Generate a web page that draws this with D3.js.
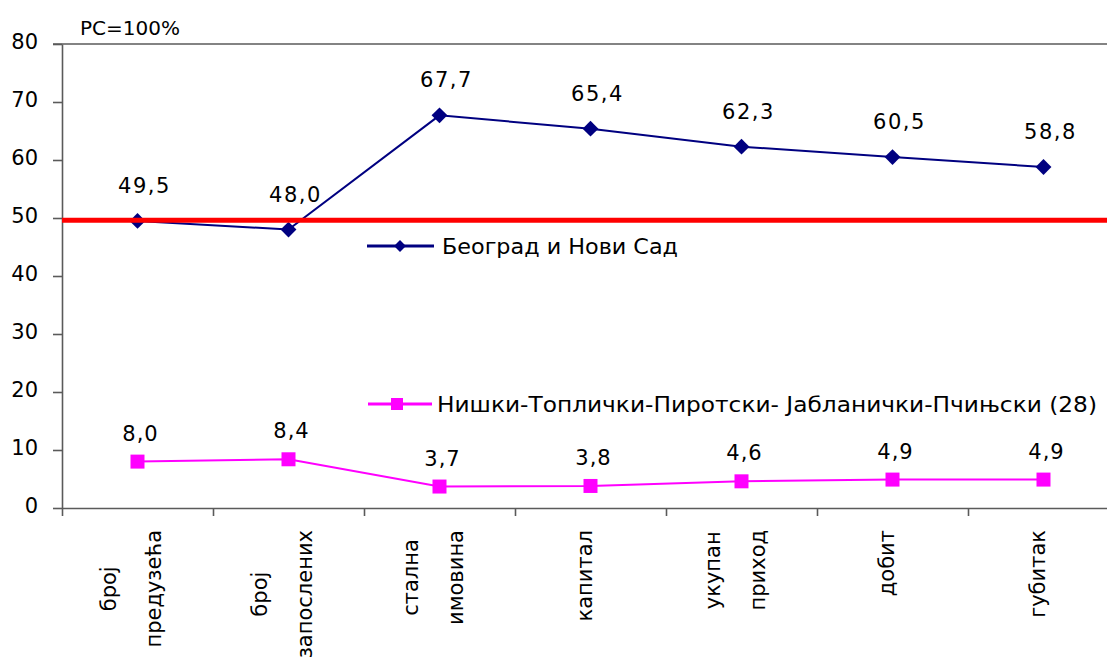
<!DOCTYPE html>
<html>
<head>
<meta charset="utf-8">
<script src="https://cdn.jsdelivr.net/npm/d3@7"></script>
<style>
  body { margin: 0; background: #fff; }
  text { font-family: "DejaVu Sans", Verdana, sans-serif; fill: #000; }
</style>
</head>
<body>
<div id="chart"></div>
<script>
// Data
var categories = ["број предузећа", "број запослених", "стална имовина", "капитал", "укупан приход", "добит", "губитак"];
var beogradValues = [49.5, 48.0, 67.7, 65.4, 62.3, 60.5, 58.8];
var nisValues = [8.0, 8.4, 3.7, 3.8, 4.6, 4.9, 4.9];
var seriesNames = ["Београд и Нови Сад", "Нишки-Топлички-Пиротски- Јабланички-Пчињски (28)"];
var yTicks = [0, 10, 20, 30, 40, 50, 60, 70, 80];
var referenceLevel = 49.6;
var unitLabel = "PC=100%";

var svgWidth = 1107;
var svgHeight = 664;

var margin = { top: 44, left: 62 };
var width = 1057;   // plot runs a little past the right edge, as in the picture
var height = 464;

var svg = d3.select("#chart")
    .append("svg")
    .attr("width", svgWidth)
    .attr("height", svgHeight);

var chartGroup = svg.append("g")
    .attr("transform", `translate(${margin.left}, ${margin.top})`);

// Scales
var xBand = d3.scaleBand()
    .domain(categories)
    .range([0, width])
    .padding(0);

var xEdges = d3.scaleLinear()
    .domain([0, categories.length])
    .range([0, width]);

var yLinearScale = d3.scaleLinear()
    .domain([0, 80])
    .range([height, 0]);

var cx = d => xBand(d) + xBand.bandwidth() / 2;
var axisColor = "#5a5a5a";

// Top border of the plot area
chartGroup.append("path")
    .attr("d", `M-9,0H${width}`)
    .attr("stroke", axisColor)
    .attr("stroke-width", 1.6);

// Y axis
var leftAxis = d3.axisLeft(yLinearScale)
    .tickValues(yTicks)
    .tickSize(9)
    .tickSizeOuter(0)
    .tickPadding(15);

var yAxisG = chartGroup.append("g").call(leftAxis);
yAxisG.selectAll("path, line").attr("stroke", axisColor).attr("stroke-width", 1.6);
yAxisG.selectAll("text")
    .attr("font-family", "DejaVu Sans")
    .style("font-size", "21px")
    .attr("dy", "0.2em");

// X axis (ticks on category boundaries)
var bottomAxis = d3.axisBottom(xEdges)
    .tickValues(d3.range(categories.length + 1))
    .tickSize(8)
    .tickSizeOuter(0)
    .tickFormat("");

var xAxisG = chartGroup.append("g")
    .attr("transform", `translate(0, ${height})`)
    .call(bottomAxis);
xAxisG.selectAll("path, line").attr("stroke", axisColor).attr("stroke-width", 1.6);

// Category labels, rotated, lines stacked side by side
var labelTop = 530 - margin.top;
var lineGap = 45;
categories.forEach(function(cat) {
    var lines = cat.split(" ");
    var g = chartGroup.append("g");
    var texts = lines.map(function(line) {
        return g.append("text")
            .style("font-size", "21px")
            .attr("text-anchor", "middle")
            .text(line);
    });
    var longest = d3.max(texts, t => t.node().getComputedTextLength());
    var midY = labelTop + longest / 2;
    texts.forEach(function(t, j) {
        var off = (j - (lines.length - 1) / 2) * lineGap - 5;
        var ax = cx(cat) + off + 6;
        t.attr("transform", `translate(${ax}, ${midY}) rotate(-90)`);
    });
});

// Lines
var lineGen = d3.line()
    .x((d, i) => cx(categories[i]))
    .y(d => yLinearScale(d));

var fmt = v => d3.format(".1f")(v).replace(".", ",");

// Београд и Нови Сад
chartGroup.append("path")
    .datum(beogradValues)
    .attr("d", lineGen)
    .attr("fill", "none")
    .attr("stroke", "#000080")
    .attr("stroke-width", 2);

chartGroup.selectAll(".diamond")
    .data(beogradValues)
    .enter()
    .append("path")
    .attr("class", "diamond")
    .attr("transform", (d, i) => `translate(${cx(categories[i])}, ${yLinearScale(d)})`)
    .attr("d", d3.symbol(d3.symbolDiamond2, 160))
    .attr("fill", "#000080");

chartGroup.selectAll(".blueLabel")
    .data(beogradValues)
    .enter()
    .append("text")
    .attr("class", "blueLabel")
    .attr("x", (d, i) => cx(categories[i]) + 7)
    .attr("y", d => yLinearScale(d) - 28)
    .attr("text-anchor", "middle")
    .style("font-size", "21px")
    .style("letter-spacing", "1.5px")
    .text(fmt);

// Нишки-... region
chartGroup.append("path")
    .datum(nisValues)
    .attr("d", lineGen)
    .attr("fill", "none")
    .attr("stroke", "#ff00ff")
    .attr("stroke-width", 2);

chartGroup.selectAll(".square")
    .data(nisValues)
    .enter()
    .append("path")
    .attr("class", "square")
    .attr("transform", (d, i) => `translate(${cx(categories[i])}, ${yLinearScale(d)})`)
    .attr("d", d3.symbol(d3.symbolSquare, 196))
    .attr("fill", "#ff00ff");

chartGroup.selectAll(".pinkLabel")
    .data(nisValues)
    .enter()
    .append("text")
    .attr("class", "pinkLabel")
    .attr("x", (d, i) => cx(categories[i]) + 3)
    .attr("y", d => yLinearScale(d) - 21)
    .attr("text-anchor", "middle")
    .style("font-size", "21px")
    .style("letter-spacing", "1px")
    .text(fmt);

// Red reference line
chartGroup.append("line")
    .attr("x1", 0)
    .attr("x2", width)
    .attr("y1", yLinearScale(referenceLevel))
    .attr("y2", yLinearScale(referenceLevel))
    .attr("stroke", "#ff0000")
    .attr("stroke-width", 5);

// Legends
var leg1 = svg.append("g").attr("transform", "translate(367, 246)");
leg1.append("line").attr("x1", 0).attr("x2", 67)
    .attr("stroke", "#000080").attr("stroke-width", 3);
leg1.append("path").attr("transform", "translate(33, 0)")
    .attr("d", d3.symbol(d3.symbolDiamond2, 90)).attr("fill", "#000080");
leg1.append("text").attr("x", 75).attr("y", 8)
    .style("font-size", "21px")
    .attr("textLength", 236).attr("lengthAdjust", "spacingAndGlyphs")
    .text(seriesNames[0]);

var leg2 = svg.append("g").attr("transform", "translate(368, 404)");
leg2.append("line").attr("x1", 0).attr("x2", 64)
    .attr("stroke", "#ff00ff").attr("stroke-width", 3);
leg2.append("path").attr("transform", "translate(29, 0)")
    .attr("d", d3.symbol(d3.symbolSquare, 144)).attr("fill", "#ff00ff");
leg2.append("text").attr("x", 69).attr("y", 8)
    .style("font-size", "21px")
    .attr("textLength", 660).attr("lengthAdjust", "spacingAndGlyphs")
    .text(seriesNames[1]);

// Unit note
svg.append("text")
    .attr("x", 80)
    .attr("y", 35)
    .style("font-size", "20px")
    .text(unitLabel);
</script>
</body>
</html>
